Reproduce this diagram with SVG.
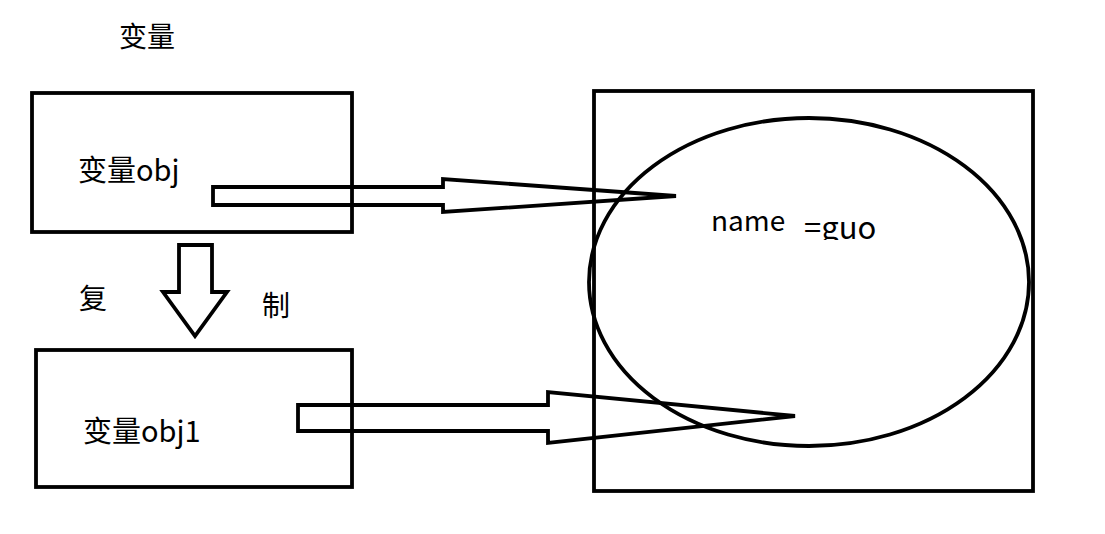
<svg xmlns="http://www.w3.org/2000/svg" width="1105" height="534" viewBox="0 0 1105 534">
<style>
.s{fill:none;stroke:#000;stroke-width:3.8;stroke-linejoin:miter}
.t{font-family:"Noto Sans CJK SC","Liberation Sans",sans-serif;fill:#000}
</style>
<defs><clipPath id="c"><rect x="800" y="200" width="100" height="40"/></clipPath></defs>
<rect width="1105" height="534" fill="#fff"/>
<text class="t" x="119" y="47" font-size="28">变量</text>
<g id="obj">
<rect class="s" x="32" y="93" width="320" height="139"/>
<text class="t" x="78" y="181" font-size="29">变量obj</text>
</g>
<g id="obj1">
<rect class="s" x="36" y="350" width="316" height="137"/>
<text class="t" x="83" y="442" font-size="29">变量obj1</text>
</g>
<g id="heap">
<rect class="s" x="594" y="91" width="439" height="400"/>
<ellipse class="s" cx="809" cy="282" rx="220" ry="164"/>
<text class="t" x="711" y="231" font-size="28">name</text>
<text class="t" x="804" y="239" font-size="31" clip-path="url(#c)">=guo</text>
</g>
<text class="t" x="79" y="309" font-size="28">复</text>
<text class="t" x="262" y="316" font-size="28">制</text>
<g id="connectors">
<path class="s" d="M213,187 L443,187 L443,179 L676,196 L443,212 L443,205 L213,205 Z"/>
<path class="s" d="M298,405 L548,405 L548,392 L795,416 L548,443 L548,431 L298,431 Z"/>
<path class="s" d="M179,245 L212,245 L212,292 L227,292 L195,336 L163,292 L179,292 Z"/>
</g>
</svg>
